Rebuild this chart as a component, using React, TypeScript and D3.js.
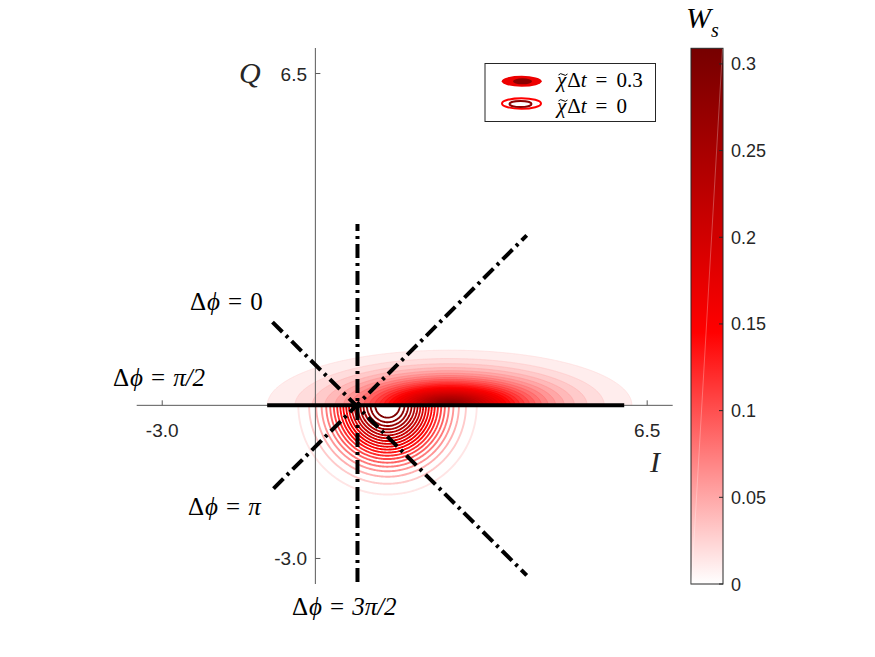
import React, { useMemo } from "react";
import * as d3 from "d3";

const WIDTH = 875;
const HEIGHT = 657;

// Axes (same range on I and Q)
const axisDomain = [-3.5, 7];
const xTicks = [-3.0, 6.5];
const yTicks = [-3.0, 6.5];

// Colorbar
const cbMax = 0.309;
const cbTicks = [0, 0.05, 0.1, 0.15, 0.2, 0.25, 0.3];
const cbColors = ["#ffffff", "#ff0000", "#760000"];
const cbMid = 0.47; // position of pure red along the bar

// Wigner function parameters
// chi*dt = 0 : coherent state (drawn as contour lines, lower half)
const coherentPeak = 0.318;
const coherentCenter = [1.414, 0];
const coherentSigma = [1.0, 1.0];
const coherentShape = 2;
const ringLevels = [0.015, 0.03, 0.045, 0.06, 0.075, 0.09, 0.105, 0.12, 0.135, 0.15, 0.165, 0.18, 0.195, 0.21, 0.225, 0.24, 0.255, 0.27, 0.285, 0.3];
// chi*dt = 0.3 : evolved state (filled contours, upper half)
const evolvedPeak = 0.29;
const evolvedCenter = [2.63, 0];
const evolvedSigma = [1.5, 0.454];
const evolvedShape = 1.4;
const fillLevels = [0.01, 0.02, 0.03, 0.04, 0.05, 0.06, 0.07, 0.08, 0.09, 0.1, 0.11, 0.12, 0.13, 0.14, 0.15, 0.16, 0.17, 0.18, 0.19, 0.2, 0.21, 0.22, 0.23, 0.24, 0.25, 0.26, 0.27, 0.28];

// Phase lines (data coordinates)
const phaseLines = [
  { from: [-0.944, 0], to: [6.05, 0], dashed: false },
  { from: [0.825, -3.46], to: [0.825, 3.55], dashed: true },
  { from: [-0.84, 1.63], to: [4.14, -3.33], dashed: true },
  { from: [-0.82, -1.63], to: [4.14, 3.33], dashed: true },
];

const phaseLabels = [
  { value: "0", x: 190, y: 310 },
  { value: "π/2", x: 113, y: 386 },
  { value: "π", x: 188, y: 515 },
  { value: "3π/2", x: 292, y: 615 },
];

const legendLabels = ["0.3", "0"];

const SERIF = "'Liberation Serif', 'DejaVu Serif', serif";
const SANS = "'Liberation Sans', Arial, Helvetica, sans-serif";

export default function App() {
  const xS = d3.scaleLinear().domain(axisDomain).range([136.7, 672.7]);
  const yS = d3.scaleLinear().domain(axisDomain).range([584, 48]);
  const color = d3
    .scaleLinear<string>()
    .domain([0, cbMax * cbMid, cbMax])
    .range(cbColors)
    .interpolate(d3.interpolateRgb);
  const cbY = d3.scaleLinear().domain([0, cbMax]).range([584, 48.3]);

  const { fills, rings } = useMemo(() => {
    const gx0 = -2.5, gx1 = 7, gy0 = -2.6, gy1 = 2.6, step = 0.02;
    const n = Math.round((gx1 - gx0) / step) + 1;
    const m = Math.round((gy1 - gy0) / step) + 1;
    const field = (a: number, c: number[], s: number[], shape: number) => {
      const v = new Float64Array(n * m);
      for (let j = 0; j < m; j++) {
        const q = gy0 + j * step;
        for (let i = 0; i < n; i++) {
          const p = gx0 + i * step;
          const dx = (p - c[0]) / s[0];
          const dy = (q - c[1]) / s[1];
          v[j * n + i] = a * Math.exp(-Math.pow(dx * dx + dy * dy, shape / 2));
        }
      }
      return v;
    };
    const proj = d3.geoTransform({
      point: function (px: number, py: number) {
        (this as any).stream.point(
          xS(gx0 + (px - 0.5) * step),
          yS(gy0 + (py - 0.5) * step)
        );
      },
    });
    const path = d3.geoPath(proj as any);
    const fillC = d3.contours().size([n, m]).thresholds(fillLevels)(
      Array.from(field(evolvedPeak, evolvedCenter, evolvedSigma, evolvedShape))
    );
    const ringC = d3.contours().size([n, m]).thresholds(ringLevels)(
      Array.from(field(coherentPeak, coherentCenter, coherentSigma, coherentShape))
    );
    return {
      fills: fillC.map((c) => ({ d: path(c as any) || "", v: c.value })),
      rings: ringC.map((c) => ({ d: path(c as any) || "", v: c.value })),
    };
  }, []);

  const y0 = yS(0);
  const x0 = xS(0);

  return (
    <svg width={WIDTH} height={HEIGHT} style={{ display: "block", position: "absolute", left: 0, top: 0 }}>
      <defs>
        <clipPath id="upper">
          <rect x={xS(-3.5)} y={48} width={xS(7) - xS(-3.5)} height={y0 - 48} />
        </clipPath>
        <clipPath id="lower">
          <rect x={xS(-3.5)} y={y0} width={xS(7) - xS(-3.5)} height={584 - y0} />
        </clipPath>
        <linearGradient id="cbgrad" x1="0" y1="1" x2="0" y2="0">
          <stop offset="0" stopColor={cbColors[0]} />
          <stop offset={cbMid} stopColor={cbColors[1]} />
          <stop offset="1" stopColor={cbColors[2]} />
        </linearGradient>
      </defs>
      <rect width={WIDTH} height={HEIGHT} fill="#ffffff" />

      {/* filled contours, evolved state */}
      <g clipPath="url(#upper)">
        {fills.map((f, i) => (
          <path key={i} d={f.d} fill={color(f.v)} stroke={color(Math.min(cbMax, f.v + 0.012))} strokeWidth={0.6} />
        ))}
      </g>
      {/* contour lines, coherent state */}
      <g clipPath="url(#lower)">
        {rings.map((r, i) => (
          <path key={i} d={r.d} fill="none" stroke={color(r.v)} strokeWidth={1.9} />
        ))}
      </g>

      {/* axes */}
      <g stroke="#5a5a5a" strokeWidth={1} fill="none">
        <line x1={xS(-3.5)} x2={xS(7)} y1={y0} y2={y0} />
        <line x1={x0} x2={x0} y1={yS(7)} y2={yS(-3.5)} />
        {xTicks.map((t) => (
          <line key={"xt" + t} x1={xS(t)} x2={xS(t)} y1={y0} y2={y0 - 5} />
        ))}
        {yTicks.map((t) => (
          <line key={"yt" + t} x1={x0} x2={x0 + 5} y1={yS(t)} y2={yS(t)} />
        ))}
      </g>
      <g fontFamily={SANS} fontSize={19} fill="#262626">
        {xTicks.map((t) => (
          <text key={"xl" + t} x={xS(t)} y={437} textAnchor="middle">
            {t.toFixed(1)}
          </text>
        ))}
        {yTicks.map((t) => (
          <text key={"yl" + t} x={307} y={yS(t) + 7} textAnchor="end">
            {t.toFixed(1)}
          </text>
        ))}
      </g>
      <text x={239} y={83} fontFamily={SERIF} fontStyle="italic" fontSize={30} fill="#262626">Q</text>
      <text x={650} y={472} fontFamily={SERIF} fontStyle="italic" fontSize={30} fill="#262626">I</text>

      {/* phase lines */}
      <g stroke="#000" strokeWidth={4} fill="none">
        {phaseLines.map((l, i) => (
          <line
            key={i}
            x1={xS(l.from[0])}
            y1={yS(l.from[1])}
            x2={xS(l.to[0])}
            y2={yS(l.to[1])}
            strokeDasharray={l.dashed ? "14,5,3,5" : undefined}
          />
        ))}
      </g>
      <g fontFamily={SERIF} fontSize={25} fill="#000">
        {phaseLabels.map((p, i) => (
          <text key={i} x={p.x} y={p.y}>
            <tspan>Δ</tspan>
            <tspan fontStyle="italic" dx={1}>ϕ</tspan>
            <tspan dx={8}>=</tspan>
            <tspan dx={8} fontStyle={p.value.includes("π") ? "italic" : "normal"}>{p.value}</tspan>
          </text>
        ))}
      </g>

      {/* colorbar */}
      <rect x={691} y={48.3} width={32} height={584 - 48.3} fill="url(#cbgrad)" stroke="#262626" strokeWidth={1} />
      <line x1={691.5} y1={583.5} x2={722.5} y2={48.8} stroke="#ffffff" strokeOpacity={0.35} strokeWidth={0.8} />
      <g stroke="#262626" strokeWidth={1}>
        {cbTicks.map((t) => (
          <line key={"ct" + t} x1={723} x2={719} y1={cbY(t)} y2={cbY(t)} />
        ))}
      </g>
      <g fontFamily={SANS} fontSize={18} fill="#262626">
        {cbTicks.map((t) => (
          <text key={"cl" + t} x={731} y={cbY(t) + 6.5}>
            {String(t)}
          </text>
        ))}
      </g>
      <text x={686} y={28} fontFamily={SERIF} fontStyle="italic" fontSize={30} fill="#000">W</text>
      <text x={711} y={37} fontFamily={SERIF} fontStyle="italic" fontSize={20} fill="#000">s</text>

      {/* legend */}
      <rect x={485} y={63.5} width={170.5} height={58} fill="#fff" stroke="#262626" strokeWidth={1} />
      <ellipse cx={521.7} cy={81.3} rx={20} ry={5.5} fill="#ee0000" />
      <ellipse cx={522.5} cy={81.3} rx={9.5} ry={3} fill="#8b0000" />
      <ellipse cx={521.5} cy={103.5} rx={19.5} ry={5.3} fill="none" stroke="#ff0000" strokeWidth={2} />
      <ellipse cx={520.5} cy={104} rx={11} ry={3} fill="none" stroke="#8b0000" strokeWidth={2} />
      {legendLabels.map((l, i) => (
        <g key={i}>
          <path
            d={`M${558.5},${75 + i * 26} q2,-2.5 4.5,-0.5 t4.5,-0.5`}
            fill="none"
            stroke="#000"
            strokeWidth={1}
          />
          <text x={557} y={87 + i * 26} fontFamily={SERIF} fontSize={21} fill="#000">
            <tspan fontStyle="italic">χ</tspan>
            <tspan dx={1}>Δ</tspan>
            <tspan fontStyle="italic">t</tspan>
            <tspan dx={9}>=</tspan>
            <tspan dx={9}>{l}</tspan>
          </text>
        </g>
      ))}
    </svg>
  );
}
